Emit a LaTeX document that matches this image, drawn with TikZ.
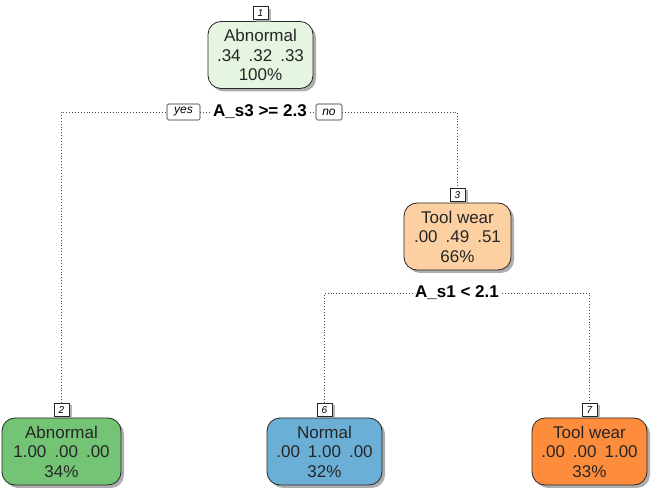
\documentclass[tikz,border=0pt]{standalone}
\usepackage{fontspec}
\setmainfont{Liberation Sans}
\usetikzlibrary{positioning,shadows}
\definecolor{rootgreen}{HTML}{E5F5E0}
\definecolor{paleorange}{HTML}{FDD0A2}
\definecolor{leafgreen}{HTML}{74C476}
\definecolor{leafblue}{HTML}{6BAED6}
\definecolor{leaforange}{HTML}{FD8D3C}
\newcommand{\colgap}{\hspace{0.47em}}
\tikzset{
  treebox/.style={draw=black!85, line width=0.8pt, rounded corners=13pt, minimum height=67pt,
    align=center, inner xsep=4pt, font=\fontsize{17}{19.5}\selectfont, text=black!85,
    execute at begin node=\rule{0pt}{21pt},
    drop shadow={shadow xshift=3pt, shadow yshift=-3pt, fill=black!45, opacity=0.7}},
  numbox/.style={draw=black!85, fill=white, line width=0.6pt, inner sep=1pt, minimum width=15pt,
    minimum height=13pt, font=\fontsize{10}{10}\selectfont\itshape,
    drop shadow={shadow xshift=2.5pt, shadow yshift=-2pt, fill=black!40, opacity=0.7}},
  ynbox/.style={draw=black!85, fill=white, line width=0.6pt, rounded corners=1.5pt, inner sep=2pt,
    minimum height=16pt, font=\fontsize{12}{12}\selectfont\itshape},
  splitlab/.style={inner sep=3pt, font=\fontsize{17}{17}\selectfont\bfseries},
  link/.style={dotted, line width=0.9pt, black!70}
}
\begin{document}
\begin{tikzpicture}[x=1pt,y=-1pt]
  \useasboundingbox (0,0) rectangle (657,497);
  % root
  \node[treebox, fill=rootgreen, minimum width=105pt] (n1) at (260.5,55) {Abnormal\\.34\colgap.32\colgap.33\\100\%};
  \node[numbox, above=1pt of n1] (l1) {1};
  \node[splitlab] (s1) at (260,112) {A\_s3 >= 2.3};
  \node[ynbox, minimum width=33pt] (yes) at (183.5,112) {yes};
  \node[ynbox, minimum width=26pt] (no) at (329,112) {no};
  % inner node
  \node[treebox, fill=paleorange, minimum width=107pt] (n3) at (457.5,236.5) {Tool wear\\.00\colgap.49\colgap.51\\66\%};
  \node[numbox, above=1pt of n3] (l3) {3};
  \node[splitlab] (s3) at (457,293) {A\_s1 < 2.1};
  % leaves
  \node[treebox, fill=leafgreen, minimum width=119pt] (n2) at (61.5,451.5) {Abnormal\\1.00\colgap.00\colgap.00\\34\%};
  \node[numbox, above=1pt of n2] (l2) {2};
  \node[treebox, fill=leafblue, minimum width=115pt] (n6) at (324.5,451.5) {Normal\\.00\colgap1.00\colgap.00\\32\%};
  \node[numbox, above=1pt of n6] (l6) {6};
  \node[treebox, fill=leaforange, minimum width=115pt] (n7) at (589.5,451.5) {Tool wear\\.00\colgap.00\colgap1.00\\33\%};
  \node[numbox, above=1pt of n7] (l7) {7};
  % connectors
  \draw[link] (l2.north) |- (yes.west);
  \draw[link] (yes.east) -- (s1.west);
  \draw[link] (s1.east) -- (no.west);
  \draw[link] (no.east) -| (l3.north);
  \draw[link] (l6.north) |- (s3.west);
  \draw[link] (s3.east) -| (l7.north);
\end{tikzpicture}
\end{document}
